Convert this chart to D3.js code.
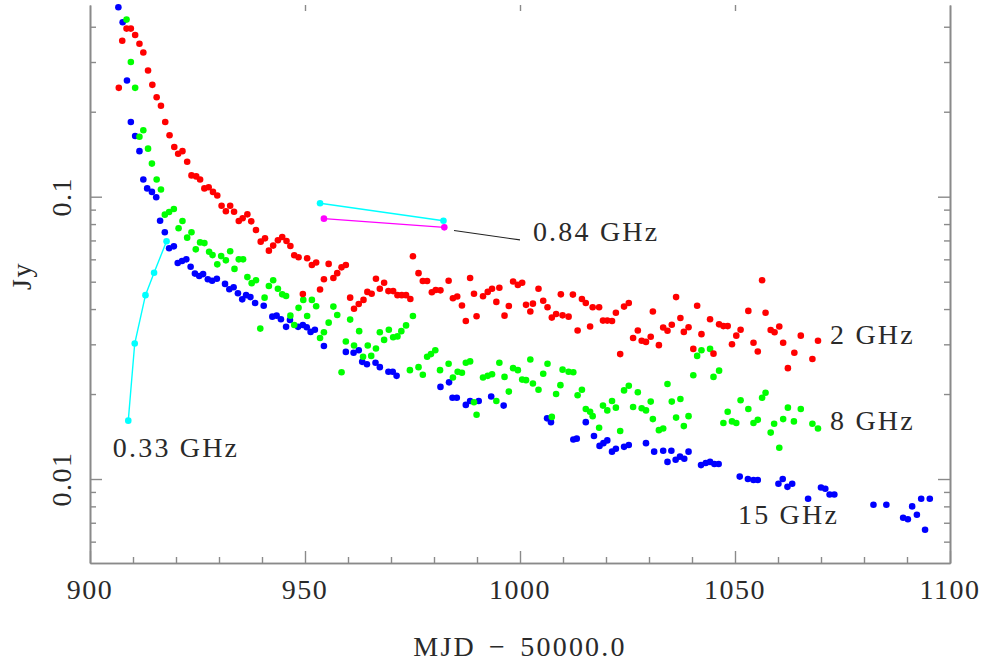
<!DOCTYPE html>
<html><head><meta charset="utf-8">
<script src="https://cdn.jsdelivr.net/npm/d3@7"></script>
<style>
body{margin:0;background:#fff;}
text{font-family:"Liberation Serif","DejaVu Serif",serif;fill:#2a2a2a;}
</style>
</head><body>
<svg id="chart" width="987" height="662"></svg>
<script>
// ---- data: [MJD-50000, flux Jy] ----
const ghz2 = [[906.7,0.243],[907.5,0.357],[908.5,0.394],[909.5,0.394],[910.5,0.374],[911.5,0.348],[912.4,0.324],[913.5,0.280],[914.5,0.249],[915.5,0.225],
[916.5,0.210],[917.5,0.184],[918.5,0.165],[919.6,0.150],[920.5,0.142],[921.5,0.145],[922.6,0.133],[923.6,0.119],[924.7,0.118],[925.6,0.115],
[926.6,0.107],[927.6,0.108],[928.6,0.104],[929.6,0.101],[930.6,0.0929],[931.6,0.0888],[932.6,0.0929],[933.5,0.0885],[934.6,0.0820],[935.5,0.0839],
[936.6,0.0866],[937.5,0.0818],[938.6,0.0762],[939.7,0.0693],[940.7,0.0712],[941.6,0.0644],[942.6,0.0671],[943.7,0.0701],[944.7,0.0720],[945.7,0.0697],
[946.6,0.0669],[947.5,0.0620],[948.5,0.0610],[949.5,0.0452],[950.5,0.0605],[951.6,0.0573],[952.6,0.0585],[953.5,0.0469],[954.4,0.0510],[955.5,0.0578],
[956.6,0.0515],[957.5,0.0536],[958.5,0.0562],[959.5,0.0573],[960.5,0.0439],[961.4,0.0401],[962.5,0.0417],[963.6,0.0431],[964.5,0.0460],[965.5,0.0453],
[966.5,0.0512],[967.4,0.0472],[968.4,0.0496],[969.4,0.0463],[970.5,0.0463],[971.5,0.0448],[972.5,0.0448],[973.5,0.0448],[974.5,0.0434],[975.1,0.0615],
[976.4,0.0536],[977.4,0.0503],[978.4,0.0503],[979.5,0.0459],[980.4,0.0467],[981.5,0.0466],[983.4,0.0504],[984.4,0.0437],[985.4,0.0443],[986.5,0.0412],
[987.4,0.0363],[988.4,0.0515],[989.3,0.0453],[989.9,0.0377],[991.4,0.0444],[992.5,0.0460],[993.5,0.0472],[994.5,0.0424],[995.2,0.0476],[996.4,0.0379],
[997.4,0.0410],[998.4,0.0501],[999.5,0.0487],[1000.5,0.0496],[1001.4,0.0414],[1002.4,0.0392],[1003.0,0.0418],[1004.3,0.0472],[1005.4,0.0428],[1006.4,0.0406],
[1007.4,0.0373],[1008.4,0.0384],[1009.5,0.0451],[1009.9,0.0380],[1011.3,0.0376],[1012.3,0.0450],[1013.4,0.0336],[1014.4,0.0434],[1015.3,0.0420],[1016.3,0.0347],
[1016.9,0.0406],[1018.4,0.0406],[1019.3,0.0364],[1020.3,0.0364],[1021.4,0.0363],[1022.3,0.0388],[1023.3,0.0277],[1024.2,0.0408],[1025.3,0.0420],[1026.3,0.0316],
[1027.4,0.0336],[1028.3,0.0309],[1029.3,0.0306],[1030.4,0.0319],[1030.9,0.0392],[1032.3,0.0298],[1033.3,0.0344],[1034.3,0.0335],[1035.3,0.0352],[1036.3,0.0441],
[1037.3,0.0372],[1038.1,0.0332],[1039.2,0.0345],[1040.3,0.0289],[1041.2,0.0411],[1042.2,0.0326],[1044.2,0.0368],[1045.0,0.0278],[1046.3,0.0353],[1047.3,0.0348],
[1048.3,0.0348],[1049.3,0.0300],[1050.3,0.0322],[1051.3,0.0338],[1053.1,0.0394],[1054.3,0.0304],[1055.3,0.0283],[1056.3,0.0506],[1057.1,0.0388],[1058.3,0.0337],
[1059.2,0.0331],[1060.3,0.0347],[1061.2,0.0304],[1062.3,0.0247],[1063.8,0.0280],[1065.3,0.0322],[1068.0,0.0266],[1069.3,0.0309]];

const ghz8 = [[908.5,0.424],[909.5,0.300],[910.5,0.243],[911.5,0.163],[912.4,0.172],[913.5,0.148],[914.4,0.131],[915.5,0.115],[916.5,0.106],[917.4,0.0864],
[918.4,0.0883],[919.5,0.0905],[920.6,0.0773],[921.5,0.0820],[922.6,0.0716],[923.6,0.0748],[924.6,0.0651],[925.6,0.0689],[926.6,0.0685],[927.7,0.0638],
[928.5,0.0621],[929.6,0.0576],[930.5,0.0616],[931.6,0.0595],[932.6,0.0641],[933.6,0.0555],[934.6,0.0600],[935.6,0.0600],[936.6,0.0519],[937.6,0.0494],
[938.6,0.0506],[939.6,0.0341],[940.6,0.0439],[941.6,0.0483],[942.6,0.0506],[943.7,0.0472],[944.7,0.0451],[945.6,0.0445],[946.6,0.0379],[947.5,0.0351],
[948.5,0.0404],[949.6,0.0431],[950.5,0.0378],[951.6,0.0431],[952.6,0.0409],[953.5,0.0316],[954.4,0.0331],[955.5,0.0358],[956.6,0.0408],[957.5,0.0381],
[958.5,0.0239],[959.5,0.0307],[960.5,0.0367],[961.4,0.0297],[962.6,0.0334],[963.5,0.0271],[964.6,0.0297],[965.4,0.0273],[966.5,0.0290],[967.4,0.0331],
[968.4,0.0311],[969.5,0.0338],[970.5,0.0318],[971.5,0.0320],[972.4,0.0334],[973.5,0.0350],[974.4,0.0243],[975.1,0.0378],[976.4,0.0249],[977.4,0.0234],
[978.4,0.0271],[979.3,0.0277],[980.3,0.0286],[981.4,0.0243],[983.4,0.0256],[984.4,0.0229],[985.5,0.0240],[986.5,0.0238],[987.4,0.0258],[988.4,0.0261],
[989.3,0.0187],[989.9,0.0169],[991.4,0.0229],[992.5,0.0232],[993.5,0.0235],[994.5,0.0189],[995.2,0.0258],[996.4,0.0230],[997.4,0.0204],[998.4,0.0247],
[999.5,0.0243],[1000.5,0.0225],[1001.4,0.0224],[1002.4,0.0265],[1003.0,0.0218],[1004.3,0.0207],[1005.4,0.0236],[1006.4,0.0256],[1007.4,0.0166],[1008.4,0.0200],
[1009.4,0.0215],[1009.9,0.0244],[1011.3,0.0240],[1012.4,0.0239],[1013.4,0.0198],[1014.4,0.0207],[1015.3,0.0177],[1016.3,0.0173],[1016.9,0.0167],[1018.4,0.0152],
[1019.3,0.0182],[1020.3,0.0175],[1021.4,0.0189],[1022.3,0.0179],[1023.3,0.0148],[1024.2,0.0206],[1025.3,0.0214],[1026.3,0.0180],[1027.4,0.0203],[1028.3,0.0178],
[1029.3,0.0175],[1030.4,0.0188],[1030.9,0.0163],[1032.3,0.0149],[1033.3,0.0151],[1034.3,0.0217],[1035.3,0.0188],[1036.3,0.0165],[1037.3,0.0192],[1038.1,0.0154],
[1039.2,0.0167],[1040.3,0.0233],[1041.2,0.0273],[1042.2,0.0286],[1044.2,0.0289],[1045.0,0.0230],[1046.3,0.0242],[1047.3,0.0158],[1048.3,0.0173],[1049.3,0.0160],
[1050.3,0.0158],[1051.3,0.0190],[1053.1,0.0177],[1054.3,0.0158],[1055.3,0.0162],[1056.3,0.0194],[1057.1,0.0202],[1058.3,0.0146],[1059.1,0.0157],[1060.3,0.0129],
[1061.2,0.0163],[1062.3,0.0179],[1063.7,0.0160],[1065.3,0.0177],[1068.0,0.0157],[1069.3,0.0151]];

const ghz15 = [[906.6,0.469],[907.6,0.415],[908.6,0.258],[909.5,0.184],[910.5,0.164],[911.5,0.145],[912.4,0.115],[913.3,0.107],[914.4,0.104],[915.4,0.0996],
[916.3,0.0822],[917.4,0.0748],[918.4,0.0657],[919.5,0.0667],[920.4,0.0582],[921.4,0.0592],[922.4,0.0600],[923.4,0.0565],[924.4,0.0534],[925.4,0.0524],
[926.3,0.0532],[927.4,0.0510],[928.4,0.0504],[929.5,0.0512],[931.4,0.0491],[932.4,0.0470],[933.4,0.0478],[934.4,0.0455],[935.4,0.0433],[936.3,0.0448],
[937.3,0.0441],[938.4,0.0420],[940.4,0.0411],[942.4,0.0376],[943.4,0.0379],[944.4,0.0368],[945.6,0.0346],[946.5,0.0366],[948.4,0.0346],[949.5,0.0351],
[950.4,0.0345],[951.3,0.0332],[952.3,0.0338],[954.4,0.0296],[959.5,0.0282],[961.3,0.0280],[962.5,0.0286],[963.3,0.0260],[964.4,0.0255],[966.4,0.0258],
[967.4,0.0249],[969.4,0.0240],[970.4,0.0240],[971.3,0.0232],[981.5,0.0212],[983.5,0.0220],[984.3,0.0194],[985.3,0.0194],[987.4,0.0183],[988.4,0.0189],
[990.4,0.0189],[993.3,0.0196],[996.2,0.0182],[1006.3,0.0164],[1007.2,0.0159],[1012.4,0.0138],[1013.2,0.0139],[1015.3,0.0159],[1017.2,0.0142],[1018.5,0.0131],
[1019.4,0.0134],[1020.3,0.0137],[1021.4,0.0125],[1022.3,0.0128],[1024.2,0.0130],[1025.3,0.0132],[1029.3,0.0134],[1031.2,0.0125],[1033.3,0.0126],[1034.3,0.0115],
[1035.2,0.0126],[1036.2,0.0117],[1037.2,0.0120],[1038.2,0.0118],[1039.2,0.0125],[1042.1,0.0112],[1043.2,0.0114],[1044.2,0.0115],[1045.2,0.0113],[1046.2,0.0113],
[1051.1,0.0102],[1053.0,0.0100],[1054.3,0.00992],[1055.3,0.00992],[1060.1,0.00962],[1061.1,0.0100],[1062.2,0.00938],[1063.3,0.00962],[1067.0,0.00851],[1070.0,0.00933],
[1071.0,0.00924],[1072.0,0.00881],[1073.1,0.00881],[1082.2,0.00811],[1085.2,0.00811],[1089.1,0.00729],[1090.2,0.00720],[1091.2,0.00800],[1092.3,0.00747],[1093.3,0.00851],
[1094.2,0.00661],[1095.3,0.00851]];

const ghz033 = [[908.9,0.0161],[910.4,0.0302],[912.9,0.0448],[914.9,0.0538],[917.8,0.0695]];
const ghz084a = [[953.5,0.0948],[982.2,0.0822]];
const ghz084b = [[954.4,0.0836],[982.4,0.0779]];

const xMajorTicks = [900, 950, 1000, 1050, 1100];
const yMajorTicks = [0.01, 0.1];
const yTickLabels = ["0.01", "0.1"];

// labels positioned in data coordinates
const seriesLabels = [
  {text:"0.84 GHz", mjd:1003.0, jy:0.0697},
  {text:"2 GHz",    mjd:1072.1, jy:0.0301},
  {text:"8 GHz",    mjd:1072.1, jy:0.0149},
  {text:"15 GHz",   mjd:1050.7, jy:0.00693},
  {text:"0.33 GHz", mjd:905.3,  jy:0.0120}
];
const leader = [[984.65,0.0759],[1000.0,0.0703]];

// ---- scales ----
const svg = d3.select("#chart");
const x = d3.scaleLinear().domain([900,1100]).range([90,950]);
const y = d3.scaleLog().domain([0.005041,0.4776]).range([563,5]);

const axisColor = "#8a8a8a";
const xMinor = d3.range(900,1101,10).filter(v => v % 50 !== 0);
const yMinor = [0.006,0.007,0.008,0.009,0.02,0.03,0.04,0.05,0.06,0.07,0.08,0.09,0.2,0.3,0.4];

function addAxis(gen, tr, vals, size, showDomain){
  const g = svg.append("g").attr("transform", tr)
    .call(gen.tickValues(vals).tickSize(size).tickSizeOuter(0).tickFormat(""));
  g.selectAll("path.domain").attr("stroke", showDomain ? axisColor : "none").attr("stroke-width", 1.6);
  g.selectAll(".tick line").attr("stroke", axisColor).attr("stroke-width", 1.4);
  g.selectAll(".tick text").remove();
  return g;
}
// bottom
addAxis(d3.axisBottom(x), "translate(0,563)", xMinor, -6, true);
addAxis(d3.axisBottom(x), "translate(0,563)", xMajorTicks, -12, true);
// top: only the lower part of the major ticks shows, no frame line
addAxis(d3.axisTop(x), "translate(0,5)", xMajorTicks.slice(1,4), -6, false);
// left & right
addAxis(d3.axisLeft(y), "translate(90,0)", yMinor, -6, true);
addAxis(d3.axisLeft(y), "translate(90,0)", yMajorTicks, -12, true);
addAxis(d3.axisRight(y), "translate(950,0)", yMinor, -6, true);
addAxis(d3.axisRight(y), "translate(950,0)", yMajorTicks, -12, true);

const fs = 28;
// x tick labels
svg.append("g").selectAll("text").data(xMajorTicks).join("text")
  .attr("x", d => x(d)).attr("y", 599)
  .attr("text-anchor","middle").attr("font-size", fs).attr("letter-spacing", 1.5)
  .text(d => d);
// y tick labels (rotated)
svg.append("g").selectAll("text").data(yMajorTicks).join("text")
  .attr("transform", d => `translate(71,${y(d)}) rotate(-90)`)
  .attr("text-anchor","middle").attr("font-size", fs).attr("letter-spacing", 1.5)
  .text((d,i) => yTickLabels[i]);
// axis titles
svg.append("text").attr("x", 520).attr("y", 656).attr("text-anchor","middle")
  .attr("font-size", fs).attr("letter-spacing", 2.2).attr("word-spacing", 4).text("MJD \u2212 50000.0");
svg.append("text").attr("transform","translate(31,276) rotate(-90)").attr("text-anchor","middle")
  .attr("font-size", fs).attr("letter-spacing", 1.5).text("Jy");

// ---- marks ----
const line = d3.line().x(d => x(d[0])).y(d => y(d[1]));
function dots(data, color){
  svg.append("g").selectAll("circle").data(data).join("circle")
    .attr("cx", d => x(d[0])).attr("cy", d => y(d[1])).attr("r", 3.3).attr("fill", color);
}
dots(ghz15, "#0000ff");
dots(ghz8, "#00ff00");
dots(ghz2, "#ff0000");

svg.append("path").datum(ghz033).attr("d", line).attr("fill","none").attr("stroke","#00ffff").attr("stroke-width",1.4);
dots(ghz033, "#00ffff");
svg.append("path").datum(ghz084a).attr("d", line).attr("fill","none").attr("stroke","#00ffff").attr("stroke-width",1.4);
dots(ghz084a, "#00ffff");
svg.append("path").datum(ghz084b).attr("d", line).attr("fill","none").attr("stroke","#ff00ff").attr("stroke-width",1.4);
dots(ghz084b, "#ff00ff");
svg.append("path").datum(leader).attr("d", line).attr("fill","none").attr("stroke","#222").attr("stroke-width",1.1);

svg.append("g").selectAll("text").data(seriesLabels).join("text")
  .attr("x", d => x(d.mjd)).attr("y", d => y(d.jy))
  .attr("font-size", fs).attr("letter-spacing", 2.2)
  .text(d => d.text);
</script>
</body></html>
